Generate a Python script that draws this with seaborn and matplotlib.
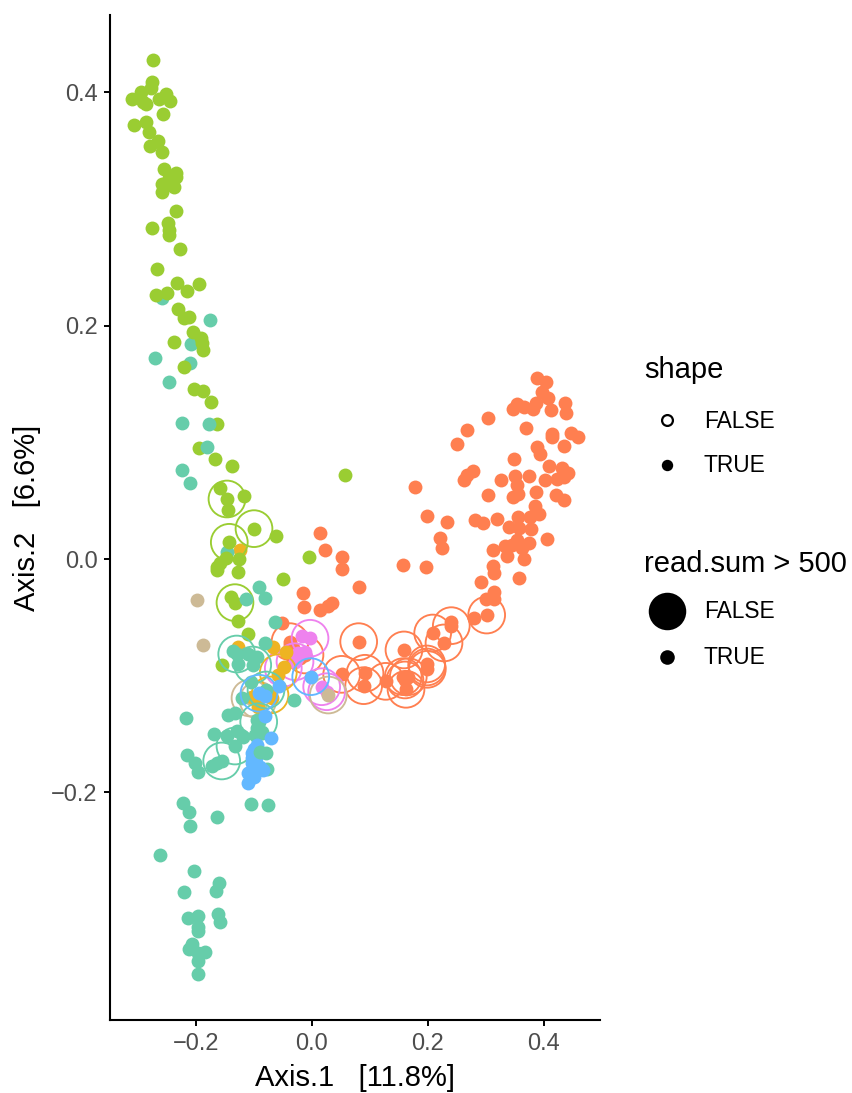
#!/usr/bin/env python3

"""Ordination scatter: Axis.1 vs Axis.2 with rings for low read counts."""

import matplotlib
matplotlib.use("Agg")
import matplotlib.pyplot as plt
import pandas as pd
import seaborn as sns
from matplotlib.lines import Line2D

# DATA - filled points per group, drawn back to front
orange_x = [-0.0155, -0.0133, 0.0133, 0.0281, 0.034, 0.0816, -0.0517, -0.0379, -0.0379, -0.0207, -0.0328, -0.0121,
            0.0138, 0.0224, 0.0517, 0.0512, 0.0805,
            0.3874, 0.4034, 0.396, 0.4069, 0.4367, 0.4374, 0.3857, 0.3805, 0.3655, 0.354, 0.346, 0.4126, 0.3034,
            0.3695, 0.2667, 0.4133, 0.4133, 0.446, 0.4581, 0.434, 0.2495, 0.3874, 0.3936, 0.3483, 0.4091, 0.431,
            0.4419, 0.4345, 0.4229, 0.4022, 0.3736, 0.3505, 0.2771, 0.2667, 0.2616, 0.3259, 0.3529, 0.1771, 0.3867,
            0.3034, 0.3557, 0.3471, 0.4207, 0.4345, 0.385, 0.3909, 0.1978, 0.2322, 0.2805, 0.2943, 0.3184, 0.3557,
            0.3759, 0.3402, 0.3564, 0.3771, 0.2207, 0.2236, 0.4052, 0.354, 0.3747, 0.3328, 0.3443, 0.3121, 0.3357,
            0.3616, 0.366, 0.1564, 0.1971, 0.3126, 0.3133, 0.3564, 0.2909, 0.3133, 0.2995, 0.3133, 0.2798, 0.3012,
            0.2402, 0.2402, 0.2081, 0.2276, 0.1586, 0.1978, 0.1988, 0.0512, 0.0914, 0.0891, 0.1271, 0.1574, 0.166,
            0.1621, 0.1603]
orange_y = [-0.0289, -0.0414, -0.0437, -0.0403, -0.0379, -0.0237, -0.0546, -0.0708, -0.0737, -0.0848, -0.0762, -0.0822,
            0.0225, 0.0077, 0.0017, -0.0088, -0.0708,
            0.1553, 0.1519, 0.1433, 0.1376, 0.1334, 0.1248, 0.1339, 0.1287, 0.1304, 0.1325, 0.1282, 0.1276, 0.1205,
            0.1125, 0.1105, 0.1071, 0.1042, 0.1082, 0.1042, 0.097, 0.0982, 0.0957, 0.0899, 0.0857, 0.0799, 0.0777,
            0.0739, 0.07, 0.0683, 0.0674, 0.0708, 0.0708, 0.0754, 0.0719, 0.0674, 0.0674, 0.0634, 0.0619, 0.0576,
            0.0551, 0.0557, 0.0531, 0.0548, 0.0503, 0.0454, 0.0383, 0.0366, 0.0314, 0.0331, 0.0311, 0.034, 0.0357,
            0.0362, 0.0272, 0.0268, 0.0257, 0.018, 0.0092, 0.0174, 0.0163, 0.0137, 0.0111, 0.012, 0.0077, 0.0028,
            0.0097, 0.0, -0.0051, -0.0071, -0.0057, -0.0117, -0.016, -0.0194, -0.0283, -0.0343, -0.0345, -0.0503, -0.048,
            -0.0537, -0.0571, -0.0634, -0.0719, -0.0779, -0.0899, -0.0945, -0.0988, -0.0979, -0.1085, -0.1048, -0.1008, -0.1008,
            -0.1116, -0.1036]
orange_ring_x = [-0.0379, -0.0121, 0.0805, 0.3012, 0.2402, 0.2081, 0.2276, 0.1586, 0.1978, 0.1988, 0.1983, 0.0512,
                 0.0914, 0.0891, 0.1271, 0.1574, 0.166, 0.1621, 0.1603]
orange_ring_y = [-0.0708, -0.0822, -0.0708, -0.048, -0.0571, -0.0634, -0.0719, -0.0779, -0.0899, -0.0945, -0.0925, -0.0988,
                 -0.0979, -0.1085, -0.1048, -0.1008, -0.1008, -0.1116, -0.1036]

violet_x = [-0.0178, -0.0034, -0.0236, -0.0293, -0.0259, -0.0121, 0.0167, 0.0253]
violet_y = [-0.066, -0.0679, -0.0808, -0.088, -0.0848, -0.0797, -0.1094, -0.1137]
violet_ring_x = [-0.0034, -0.0293, -0.0495, 0.0167, 0.0253]
violet_ring_y = [-0.0679, -0.088, -0.0936, -0.1094, -0.1137]

tan_x = [-0.1978, -0.1884, 0.0281, -0.1069, -0.0931]
tan_y = [-0.0354, -0.0737, -0.1165, -0.119, -0.1208]
tan_ring_x = [0.0281, -0.1069, -0.0931]
tan_ring_y = [-0.1165, -0.119, -0.1208]

gold_x = [-0.1247, -0.1271, -0.0667, -0.0453, -0.0483, -0.0581, -0.0753, -0.0724, -0.0926, -0.0695, -0.104]
gold_y = [0.0077, -0.0751, -0.0756, -0.0794, -0.0922, -0.0994, -0.1137, -0.1165, -0.1265, -0.1193, -0.1185]
gold_ring_x = [-0.0581, -0.0724]
gold_ring_y = [-0.0974, -0.1165]

teal_back_x = [-0.2581, -0.2091, -0.2098, -0.146]
teal_back_y = [0.2233, 0.1841, 0.1676, 0.0057]

green_x = [-0.2736, -0.2753, -0.2771, -0.2948, -0.3103, -0.2909, -0.2862, -0.2643, -0.2517, -0.2443, -0.2564, -0.3069,
           -0.2857, -0.2805, -0.266, -0.2788, -0.2591, -0.2546, -0.235, -0.235, -0.246, -0.2591, -0.2379, -0.2591,
           -0.234, -0.2477, -0.2465, -0.246, -0.2753, -0.2271, -0.2667, -0.2333, -0.1948, -0.216, -0.269, -0.2495,
           -0.2316, -0.2202, -0.2121, -0.2057, -0.1914, -0.1897, -0.2374, -0.1884, -0.2207, -0.2034, -0.1874, -0.1736,
           -0.1638, -0.1948, -0.1667, -0.1384, -0.1586, -0.1167, -0.1466, -0.1443, -0.1, -0.0626, -0.1426, -0.1478,
           -0.1253, -0.1586, -0.1643, -0.1638, -0.1271, -0.0052, -0.05, 0.0574, -0.1402, -0.1328, -0.1271, -0.1098,
           -0.1552]
green_y = [0.4274, 0.4083, 0.4037, 0.4002, 0.3937, 0.3917, 0.3897, 0.394, 0.398, 0.392, 0.3811, 0.3717,
           0.374, 0.3655, 0.358, 0.3535, 0.3486, 0.3338, 0.3309, 0.3274, 0.3263, 0.3214, 0.3186, 0.3141,
           0.2983, 0.288, 0.2818, 0.2772, 0.2835, 0.2655, 0.2486, 0.2361, 0.2355, 0.2293, 0.2264, 0.2276,
           0.2141, 0.2062, 0.207, 0.1942, 0.189, 0.1847, 0.1861, 0.179, 0.1647, 0.1453, 0.1436, 0.1342,
           0.1159, 0.0951, 0.0854, 0.0799, 0.0608, 0.0542, 0.0514, 0.0422, 0.026, 0.02, 0.0143, 0.0011,
           0.0, -0.0037, -0.0066, -0.0097, -0.0109, 0.0017, -0.0169, 0.0719, -0.0323, -0.0374, -0.0531, -0.0642,
           -0.0905]
green_ring_x = [-0.1466, -0.1, -0.1426, -0.1328]
green_ring_y = [0.0514, 0.026, 0.0143, -0.0374]

teal_x = [-0.1759, -0.2702, -0.2465, -0.2236, -0.1771, -0.181, -0.2246, -0.2098, -0.0914, -0.0805, -0.1138, -0.0638,
          -0.081, -0.1357, -0.1298, -0.1271, -0.1098, -0.0953, -0.1022, -0.1052, -0.1212, -0.0793, -0.0305, -0.2178,
          -0.1443, -0.1328, -0.169, -0.146, -0.1298, -0.1184, -0.0919, -0.0953, -0.0943, -0.0983, -0.0867, -0.215,
          -0.2017, -0.196, -0.1729, -0.1643, -0.1557, -0.1328, -0.0771,
          -0.2219, -0.2116, -0.2103, -0.1633, -0.1047, -0.0759, -0.2626, -0.2034, -0.1609, -0.166, -0.2202, -0.2138,
          -0.1971, -0.1971, -0.1971, -0.1621, -0.1581, -0.2064, -0.2121, -0.196, -0.1845, -0.1971, -0.196]
teal_y = [0.2044, 0.1722, 0.1516, 0.1167, 0.1154, 0.0959, 0.0765, 0.0648, -0.0242, -0.0337, -0.0345, -0.0542,
          -0.0722, -0.0788, -0.0814, -0.0902, -0.0814, -0.0842, -0.0908, -0.1056, -0.1193, -0.1122, -0.1208, -0.1362,
          -0.1334, -0.1322, -0.1499, -0.1516, -0.1471, -0.1522, -0.1394, -0.1379, -0.145, -0.1507, -0.1479, -0.1676,
          -0.1745, -0.1822, -0.1773, -0.175, -0.173, -0.1602, -0.1801,
          -0.2087, -0.2164, -0.2287, -0.2207, -0.2101, -0.211, -0.2538, -0.2675, -0.2775, -0.2846, -0.285, -0.3072,
          -0.3058, -0.3154, -0.3186, -0.3043, -0.3107, -0.3297, -0.334, -0.3377, -0.3369, -0.344, -0.3554]
teal_ring_x = [-0.1298, -0.1022, -0.0793, -0.0919, -0.1328, -0.1557]
teal_ring_y = [-0.0814, -0.0908, -0.1122, -0.1394, -0.1602, -0.173]

blue_x = [-0.1098, -0.1069, -0.1098, -0.0897, -0.0845, -0.104, -0.0983, -0.104, -0.1034, -0.0953, -0.0707, -0.081,
          -0.081, -0.0914, -0.0569, -0.0022, -0.1, -0.0965, -0.1]
blue_y = [-0.1921, -0.1822, -0.1835, -0.1779, -0.1807, -0.175, -0.1773, -0.1664, -0.1704, -0.1593, -0.1536, -0.1345,
          -0.1173, -0.115, -0.1088, -0.1008, -0.163, -0.1705, -0.187]
blue_ring_x = [-0.0914, -0.0022]
blue_ring_y = [-0.115, -0.1008]

teal_top_x = [-0.0897, -0.0793]
teal_top_y = [-0.165, -0.1664]

# COLOURS
c_orange = "#FF7F50"
c_violet = "#EE82EE"
c_tan = "#CDBA96"
c_gold = "#EEB422"
c_green = "#9ACD32"
c_teal = "#66CDAA"
c_blue = "#63B8FF"

layers = [
    (orange_x, orange_y, orange_ring_x, orange_ring_y, c_orange),
    (violet_x, violet_y, violet_ring_x, violet_ring_y, c_violet),
    (tan_x, tan_y, tan_ring_x, tan_ring_y, c_tan),
    (gold_x, gold_y, gold_ring_x, gold_ring_y, c_gold),
    (teal_back_x, teal_back_y, [], [], c_teal),
    (green_x, green_y, green_ring_x, green_ring_y, c_green),
    (teal_x, teal_y, teal_ring_x, teal_ring_y, c_teal),
    (blue_x, blue_y, blue_ring_x, blue_ring_y, c_blue),
    (teal_top_x, teal_top_y, [], [], c_teal),
]

# PLOT SETUP
W, H = 852, 1093
sns.set_theme(style="ticks")
plt.rcParams["font.family"] = ["Liberation Sans", "DejaVu Sans"]

fig = plt.figure(figsize=(W / 100, H / 100), dpi=100, facecolor="white")
ax = fig.add_axes([110 / W, 1 - 1020 / H, 490 / W, 1005 / H])

# GENERATE THE SCATTER LAYERS
for px, py, rx, ry, col in layers:
    if rx:
        sns.scatterplot(x=rx, y=ry, ax=ax, s=700, facecolor="none", edgecolor=col, linewidth=1.35,
                        legend=False, zorder=3)
    sns.scatterplot(x=px, y=py, ax=ax, s=100, color=col, linewidth=0, legend=False, zorder=3)

ax.set_xlim(-0.3483, 0.4966)
ax.set_ylim(-0.3949, 0.4660)
ax.set_xticks([-0.2, 0.0, 0.2, 0.4])
ax.set_yticks([-0.2, 0.0, 0.2, 0.4])
ax.set_xticklabels(["\u22120.2", "0.0", "0.2", "0.4"])
ax.set_yticklabels(["\u22120.2", "0.0", "0.2", "0.4"])
ax.tick_params(axis="both", colors="black", labelcolor="#4D4D4D", labelsize=17, length=4, width=1.4, pad=5)
ax.set_xlabel("Axis.1   [11.8%]", fontsize=21, color="black", labelpad=7)
ax.set_ylabel("Axis.2   [6.6%]", fontsize=21, color="black", labelpad=7)
sns.despine(ax=ax)
for side in ["left", "bottom"]:
    ax.spines[side].set_linewidth(1.5)
    ax.spines[side].set_color("black")


# LEGENDS (hand placed, in pixel positions of the figure)
def fx(p):
    return p / W


def fy(p):
    return 1 - p / H


def legend_text(x, y, s, size):
    fig.text(fx(x), fy(y), s, fontsize=size, color="black", ha="left", va="center")


def legend_dot(y, size, face="black", edge="black", lw=0):
    fig.add_artist(Line2D([fx(667)], [fy(y)], transform=fig.transFigure, marker="o", markersize=size,
                          markerfacecolor=face, markeredgecolor=edge, markeredgewidth=lw, linestyle="none"))


legend_text(644, 370, "shape", 21)
legend_dot(420, 7.8, face="white", lw=1.6)
legend_text(704, 421, "FALSE", 16.4)
legend_dot(465, 8.2)
legend_text(704, 466, "TRUE", 16.4)

legend_text(644, 564, "read.sum > 500", 21)
legend_dot(611, 27)
legend_text(704, 612, "FALSE", 16.4)
legend_dot(657, 10.5)
legend_text(704, 658, "TRUE", 16.4)

plt.savefig("out.png", dpi=100, facecolor="white")
